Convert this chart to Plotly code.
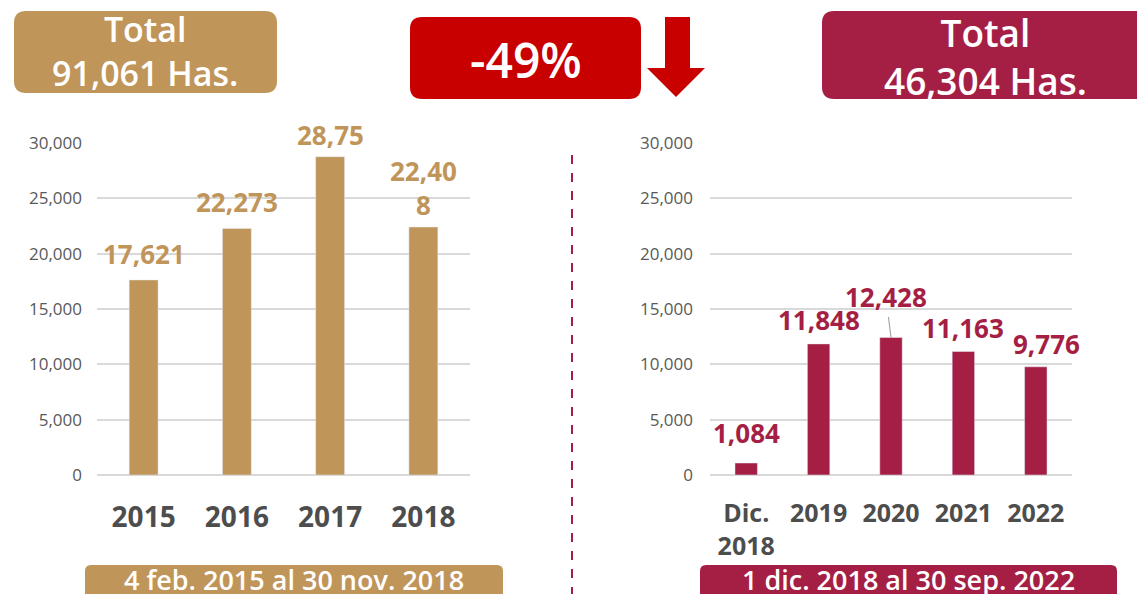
import plotly.graph_objects as go

##----------------------------------------------------------------------------##
# Data
years_before = ['2015', '2016', '2017', '2018']
has_before = [17621, 22273, 28759, 22408]
labels_before = ['17,621', '22,273', '28,75', '22,40<br>8']

years_after = ['Dic.<br>2018', '2019', '2020', '2021', '2022']
has_after = [1084, 11848, 12428, 11163, 9776]
labels_after = ['1,084', '11,848', '12,428', '11,163', '9,776']

total_before = 'Total<br>91,061 Has.'
total_after = 'Total<br>46,304 Has.'
change_text = '-49%'
period_before = '4 feb. 2015 al 30 nov. 2018'
period_after = '1 dic. 2018 al 30 sep. 2022'
yticks = [0, 5000, 10000, 15000, 20000, 25000, 30000]
##----------------------------------------------------------------------------##

TAN = '#BF9559'
CRIMSON = '#A51F45'
RED = '#C80000'
W, H = 1137, 594
FONT = 'Open Sans'


def px(x):
    return x / W


def py(y):
    return 1 - y / H


def rounded_box(x0, y0, x1, y1, r, color):
    # pixel coords -> paper coords path with rounded corners
    rx, ry = r / W, r / H
    a, b, c, d = px(x0), py(y1), px(x1), py(y0)
    path = (f'M {a+rx},{b} L {c-rx},{b} Q {c},{b} {c},{b+ry} '
            f'L {c},{d-ry} Q {c},{d} {c-rx},{d} L {a+rx},{d} '
            f'Q {a},{d} {a},{d-ry} L {a},{b+ry} Q {a},{b} {a+rx},{b} Z')
    return dict(type='path', xref='paper', yref='paper', path=path,
                fillcolor=color, line=dict(width=0), layer='below')


def box_text(x, y, text, size):
    return dict(x=px(x), y=py(y), xref='paper', yref='paper', text=text,
                showarrow=False, xanchor='center', yanchor='middle',
                font=dict(family=FONT, size=size, color='white', weight=600))


fig = go.Figure()
fig.add_trace(go.Bar(x=years_before, y=has_before, marker_color=TAN,
                     xaxis='x', yaxis='y', hoverinfo='skip'))
fig.add_trace(go.Bar(x=years_after, y=has_after, marker_color=CRIMSON,
                     xaxis='x2', yaxis='y2', hoverinfo='skip'))

annotations = []
# value labels (x given as category index)
shift_before = [6, 7, 2, 2]
for i, (v, t) in enumerate(zip(has_before, labels_before)):
    annotations.append(dict(x=i, y=v, xref='x', yref='y', text=t, showarrow=False,
                            xanchor='center', yanchor='bottom', yshift=shift_before[i],
                            font=dict(family=FONT, size=26, color=TAN, weight='bold')))
shift_after = [10, 4, 0, 3, 3]
xshift_after = [0, 0, 0, 0, 11]
for i, (v, t) in enumerate(zip(has_after, labels_after)):
    if t == '12,428':
        annotations.append(dict(x=i, y=v, xref='x2', yref='y2', text=t, showarrow=True,
                                arrowhead=0, arrowwidth=1.2, arrowcolor='#A6A6A6',
                                ax=-5, ay=-40, standoff=0,
                                font=dict(family=FONT, size=26, color=CRIMSON, weight='bold')))
    else:
        annotations.append(dict(x=i, y=v, xref='x2', yref='y2', text=t, showarrow=False,
                                xanchor='center', yanchor='bottom',
                                yshift=shift_after[i], xshift=xshift_after[i],
                                font=dict(family=FONT, size=26, color=CRIMSON, weight='bold')))

# header / footer box texts
annotations += [
    box_text(145, 51, total_before, 34),
    box_text(526, 59, change_text, 48),
    box_text(985, 56, total_after, 37),
    box_text(294, 579, period_before, 27),
    box_text(908, 579, period_after, 27),
]

shapes = [
    rounded_box(14, 11, 277, 93, 12, TAN),
    rounded_box(410, 17, 641, 99, 12, RED),
    rounded_box(822, 11, 1150, 99, 12, CRIMSON),
    rounded_box(85, 565, 503, 610, 6, TAN),
    rounded_box(700, 565, 1117, 610, 6, CRIMSON),
    # down arrow
    dict(type='path', xref='paper', yref='paper', fillcolor=RED, line=dict(width=0),
         path=(f'M {px(665)},{py(17)} L {px(690)},{py(17)} L {px(690)},{py(68)} '
               f'L {px(705)},{py(68)} L {px(676)},{py(97)} L {px(647)},{py(68)} '
               f'L {px(665)},{py(68)} Z')),
    # dashed divider
    dict(type='line', xref='paper', yref='paper', x0=px(572), x1=px(572), y0=py(155), y1=0,
         line=dict(color=CRIMSON, width=2, dash='dash')),
]

ydom = [py(475), py(143)]
yax = dict(range=[0, 30000], tickvals=yticks, tickformat=',', showgrid=True,
           gridcolor='#D9D9D9', gridwidth=2, zeroline=True, zerolinecolor='#D9D9D9',
           zerolinewidth=2, showline=False, ticks='', automargin=False,
           tickfont=dict(family=FONT, size=17, color='#595959'), fixedrange=True)
xax = dict(type='category', showline=False, ticks='', showgrid=False,
           automargin=False, fixedrange=True)

fig.update_layout(
    width=W, height=H,
    margin=dict(l=0, r=0, t=0, b=0, autoexpand=False),
    plot_bgcolor='white', paper_bgcolor='white',
    showlegend=False, bargap=0.69,
    xaxis=dict(xax, domain=[px(97), px(470)], anchor='y', ticklabelstandoff=23,
               range=[-0.5, len(years_before) - 0.5],
               tickfont=dict(family=FONT, size=28, color='#4D4D4D', weight='bold')),
    yaxis=dict(yax, domain=ydom, anchor='x', ticklabelstandoff=14),
    xaxis2=dict(xax, domain=[px(710), px(1072)], anchor='y2', ticklabelstandoff=21,
                range=[-0.5, len(years_after) - 0.5],
                tickfont=dict(family=FONT, size=25, color='#4D4D4D', weight='bold')),
    yaxis2=dict(yax, domain=ydom, anchor='x2', ticklabelstandoff=16),
    annotations=annotations,
    shapes=shapes,
)
fig.write_html("out.html", config={'displayModeBar': False},
               post_script="document.body.style.margin='0';")
